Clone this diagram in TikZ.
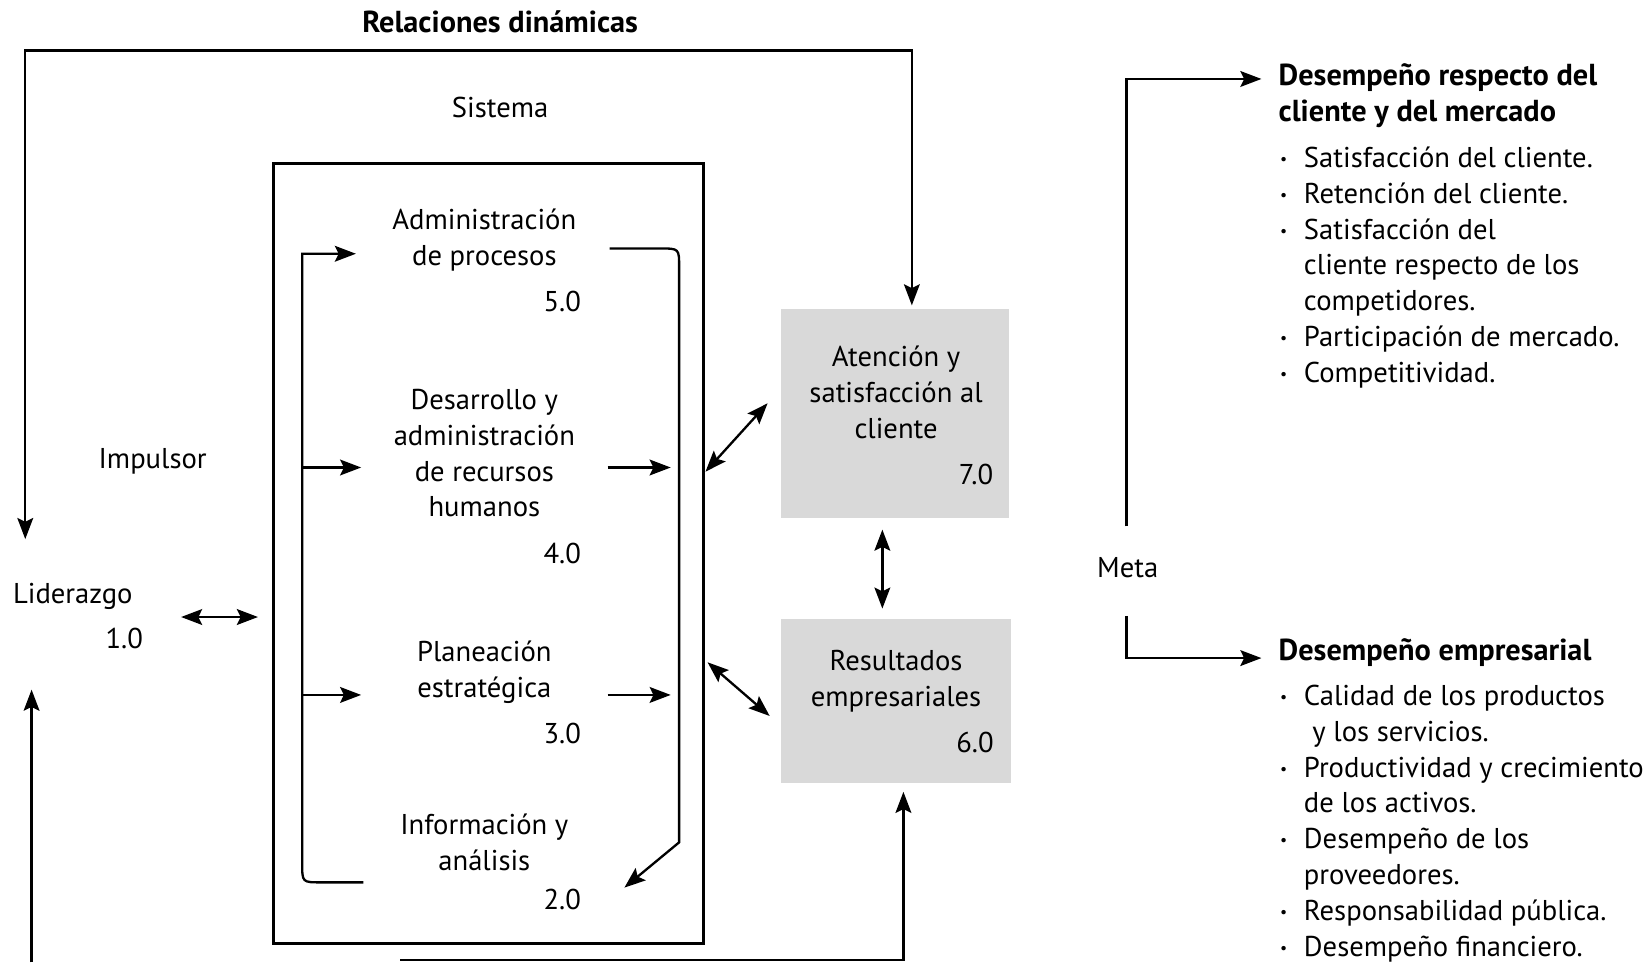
\documentclass[tikz,border=0pt]{standalone}
\usepackage{fontspec}
\setmainfont{PT Sans}
\usetikzlibrary{arrows.meta,fit}
\newcommand{\bul}{\llap{\raisebox{0.2ex}{\scalebox{0.55}{\textbullet}}\hspace{8pt}}}
\begin{document}
\begin{tikzpicture}[x=0.5pt,y=-0.5pt,
  txt/.style={font=\fontsize{13.6}{17}\selectfont, inner sep=0pt},
  ttl/.style={font=\fontsize{14.4}{17}\selectfont\bfseries, inner sep=0pt},
  ln/.style={line width=1.1pt},
  tip/.tip={Stealth[length=10pt,width=7.5pt,inset=1.8pt]},
  arr/.style={ln,-tip},
  dbl/.style={ln,tip-tip},
  shade/.style={fill=black!15, inner sep=0pt},
  frame/.style={draw, line width=1.4pt, inner sep=0pt},
]
\useasboundingbox (0,0) rectangle (1568,914);

% headings (multi-line nodes sit on the baseline of their last line)
\node[ttl, anchor=base] (title) at (475,31) {Relaciones dinámicas};
\node[txt, anchor=base] (sistema) at (475,112) {Sistema};
\node[txt, anchor=base] (impulsor) at (145,445) {Impulsor};
\node[txt, anchor=base west] (lid) at (12,573) {Liderazgo};
\node[txt, anchor=base] (lidnum) at (118,616) {1.0};
\node[txt, anchor=base] (meta) at (1071,548) {Meta};

% system frame
\node[frame, fit={(260,155) (668,896)}] (sys) {};

% processes inside the system
\node[txt, align=center, anchor=base] (p5) at (460,252) {Administración\\de procesos};
\node[txt, anchor=base] (p5n) at (534,296) {5.0};
\node[txt, align=center, anchor=base] (p4) at (460,491) {Desarrollo y\\administración\\de recursos\\humanos};
\node[txt, anchor=base] (p4n) at (534,535) {4.0};
\node[txt, align=center, anchor=base] (p3) at (460,662) {Planeación\\estratégica};
\node[txt, anchor=base] (p3n) at (534,706) {3.0};
\node[txt, align=center, anchor=base] (p2) at (460,827) {Información y\\análisis};
\node[txt, anchor=base] (p2n) at (534,864) {2.0};

% results boxes
\node[shade, fit={(742,293) (958,492)}] (b7) {};
\node[txt, align=center, anchor=base] (b7t) at (851,416) {Atención y\\satisfacción al\\cliente};
\node[txt, anchor=base] (b7n) at (927,460) {7.0};
\node[shade, fit={(742,588) (960,744)}] (b6) {};
\node[txt, align=center, anchor=base] (b6t) at (851,671) {Resultados\\empresariales};
\node[txt, anchor=base] (b6n) at (926,715) {6.0};

% goal lists
\node[ttl, align=left, anchor=base west] (h1) at (1214,115) {Desempeño respecto del\\cliente y del mercado};
\node[txt, align=left, anchor=base west] (l1) at (1238,363) {%
\bul Satisfacción del cliente.\\
\bul Retención del cliente.\\
\bul Satisfacción del\\
cliente respecto de los\\
competidores.\\
\bul Participación de mercado.\\
\bul Competitividad.};
\node[ttl, align=left, anchor=base west] (h2) at (1214,627) {Desempeño empresarial};
\node[txt, align=left, anchor=base west] (l2) at (1238,908) {%
\bul Calidad de los productos\\
\hspace{4pt}y los servicios.\\
\bul Productividad y crecimiento\\
de los activos.\\
\bul Desempeño de los\\
proveedores.\\
\bul Responsabilidad pública.\\
\bul Desempeño financiero.};

% connector end points
\coordinate (fbL) at (24,512);
\coordinate (fbR) at (866,290);
\coordinate (upL0) at (30,914);
\coordinate (upL) at (30,655);
\coordinate (upR0) at (380,912);
\coordinate (upR) at (858,752);
\coordinate (lidA) at (172,586);
\coordinate (lidB) at (245,586);

% dynamic relations loop
\draw[dbl] (fbL) -- (24,48) -- (866,48) -- (fbR);
\draw[arr] (upL0) -- (upL);
\draw[arr] (upR0) -- (858,912) -- (upR);
\draw[dbl] (lidA) -- (lidB);

% flow inside the system
\draw[arr] (345,838) -- (305,838) .. controls (287,838) .. (287,820) -- (287,241) -- (338,241);
\draw[arr] (287,444) -- (343,444);
\draw[arr] (287,660) -- (343,660);
\draw[arr] (579,236) -- (627,236) .. controls (645,236) .. (645,254) -- (645,800) -- (593,843);
\draw[arr] (577,444) -- (637,444);
\draw[arr] (577,660) -- (637,660);

% system to results
\draw[dbl] (670,448) -- (729,383);
\draw[dbl] (672,629) -- (731,680);
\draw[dbl] (838,503) -- (838,578);

% results to goals
\draw[arr] (1070,500) -- (1070,75) -- (1198,75);
\draw[arr] (1070,585) -- (1070,625) -- (1198,625);
\end{tikzpicture}
\end{document}
